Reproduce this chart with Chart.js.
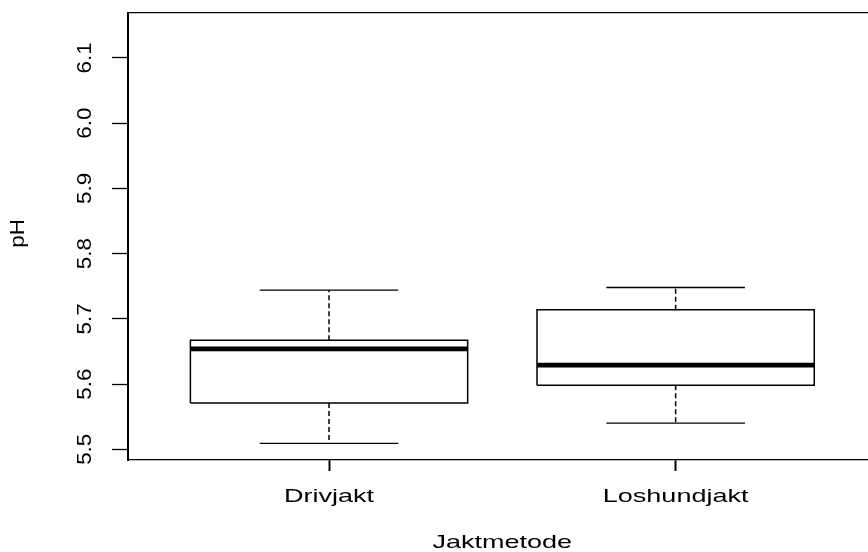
<!DOCTYPE html>
<html>
<head>
<meta charset="utf-8">
<script src="https://cdn.jsdelivr.net/npm/chart.js@4"></script>
<style>
html, body { margin: 0; padding: 0; background: #fff; }
#wrap { width: 868px; height: 552px; }
</style>
</head>
<body>
<div id="wrap"><canvas id="chart"></canvas></div>
<script>
// box plot values
const categories = ["Drivjakt", "Loshundjakt"];
const whiskerLow = [5.509, 5.540];
const boxLow = [5.571, 5.598];
const medians = [5.654, 5.629];
const boxHigh = [5.667, 5.714];
const whiskerHigh = [5.744, 5.748];
const yTicks = [5.5, 5.6, 5.7, 5.8, 5.9, 6.0, 6.1];
const yTickLabels = ["5.5", "5.6", "5.7", "5.8", "5.9", "6.0", "6.1"];
const xTitle = "Jaktmetode";
const yTitle = "pH";

const BOX_HALF = 0.4, CAP_HALF = 0.2;

function seg(points, opts) {
    return Object.assign({
        data: points.map(([x, y]) => ({ x, y })),
        showLine: true,
        pointRadius: 0,
        borderColor: "#000",
        borderWidth: 1.5,
        fill: false,
        tension: 0
    }, opts);
}

const datasets = [];
categories.forEach((c, i) => {
    const x = i + 1;
    datasets.push(seg([[x, boxHigh[i]], [x, whiskerHigh[i]]], { borderDash: [5, 3] }));
    datasets.push(seg([[x, boxLow[i]], [x, whiskerLow[i]]], { borderDash: [5, 3] }));
    datasets.push(seg([[x - CAP_HALF, whiskerHigh[i]], [x + CAP_HALF, whiskerHigh[i]]], { borderWidth: 1.3 }));
    datasets.push(seg([[x - CAP_HALF, whiskerLow[i]], [x + CAP_HALF, whiskerLow[i]]], { borderWidth: 1.3 }));
    datasets.push(seg([
        [x - BOX_HALF, boxLow[i]], [x + BOX_HALF, boxLow[i]],
        [x + BOX_HALF, boxHigh[i]], [x - BOX_HALF, boxHigh[i]],
        [x - BOX_HALF, boxLow[i]]
    ], {}));
    datasets.push(seg([[x - BOX_HALF, medians[i]], [x + BOX_HALF, medians[i]]], { borderWidth: 4.7, borderCapStyle: "butt" }));
});

// R-style text: labels come out stretched in the reference
const textPlugin = {
    id: "rtext",
    afterDraw(chart) {
        const ctx = chart.ctx, xs = chart.scales.x, ys = chart.scales.y;
        const area = chart.chartArea;
        ctx.save();
        ctx.fillStyle = "#000";
        ctx.textAlign = "center";
        ctx.textBaseline = "alphabetic";
        ctx.font = "18.5px 'Liberation Sans', Arial, sans-serif";
        const wide = (text, x, y) => {
            ctx.save(); ctx.translate(x, y); ctx.scale(1.46, 1); ctx.fillText(text, 0, 0); ctx.restore();
        };
        categories.forEach((c, i) => wide(c, xs.getPixelForValue(i + 1), area.bottom + 42));
        wide(xTitle, xs.getPixelForValue(1.5), area.bottom + 88);
        ctx.font = "20px 'Liberation Sans', Arial, sans-serif";
        const up = (text, x, y) => {
            ctx.save(); ctx.translate(x, y); ctx.rotate(-Math.PI / 2); ctx.scale(1.12, 1); ctx.fillText(text, 0, 0); ctx.restore();
        };
        yTicks.forEach((v, i) => up(yTickLabels[i], area.left - 37, ys.getPixelForValue(v)));
        up(yTitle, 24, (area.top + area.bottom) / 2 - 3);
        ctx.restore();
    }
};

new Chart(document.getElementById("chart"), {
    type: "scatter",
    data: { datasets },
    options: {
        responsive: true,
        maintainAspectRatio: false,
        animation: false,
        layout: { padding: { left: 112, top: 13, bottom: 81, right: 0 } },
        plugins: { legend: { display: false }, tooltip: { enabled: false } },
        scales: {
            x: {
                type: "linear",
                position: "bottom",
                min: 0.42,
                max: 2.555,
                afterBuildTicks: s => { s.ticks = categories.map((c, i) => ({ value: i + 1 })); },
                ticks: { display: false },
                grid: { drawOnChartArea: false, drawTicks: true, tickLength: 11, tickWidth: 2, tickColor: "#000" },
                border: { display: true, color: "#000", width: 1.3 }
            },
            x2: {
                type: "linear",
                position: "top",
                min: 0.42,
                max: 2.555,
                ticks: { display: false },
                grid: { drawOnChartArea: false, drawTicks: false },
                border: { display: true, color: "#000", width: 1.3 }
            },
            y: {
                type: "linear",
                min: 5.4836,
                max: 6.1688,
                afterBuildTicks: s => { s.ticks = yTicks.map(v => ({ value: v })); },
                ticks: { display: false },
                grid: { drawOnChartArea: false, tickLength: 16, tickWidth: 1.3, tickColor: "#000" },
                border: { display: true, color: "#000", width: 2 }
            }
        }
    },
    plugins: [textPlugin]
});
</script>
</body>
</html>
